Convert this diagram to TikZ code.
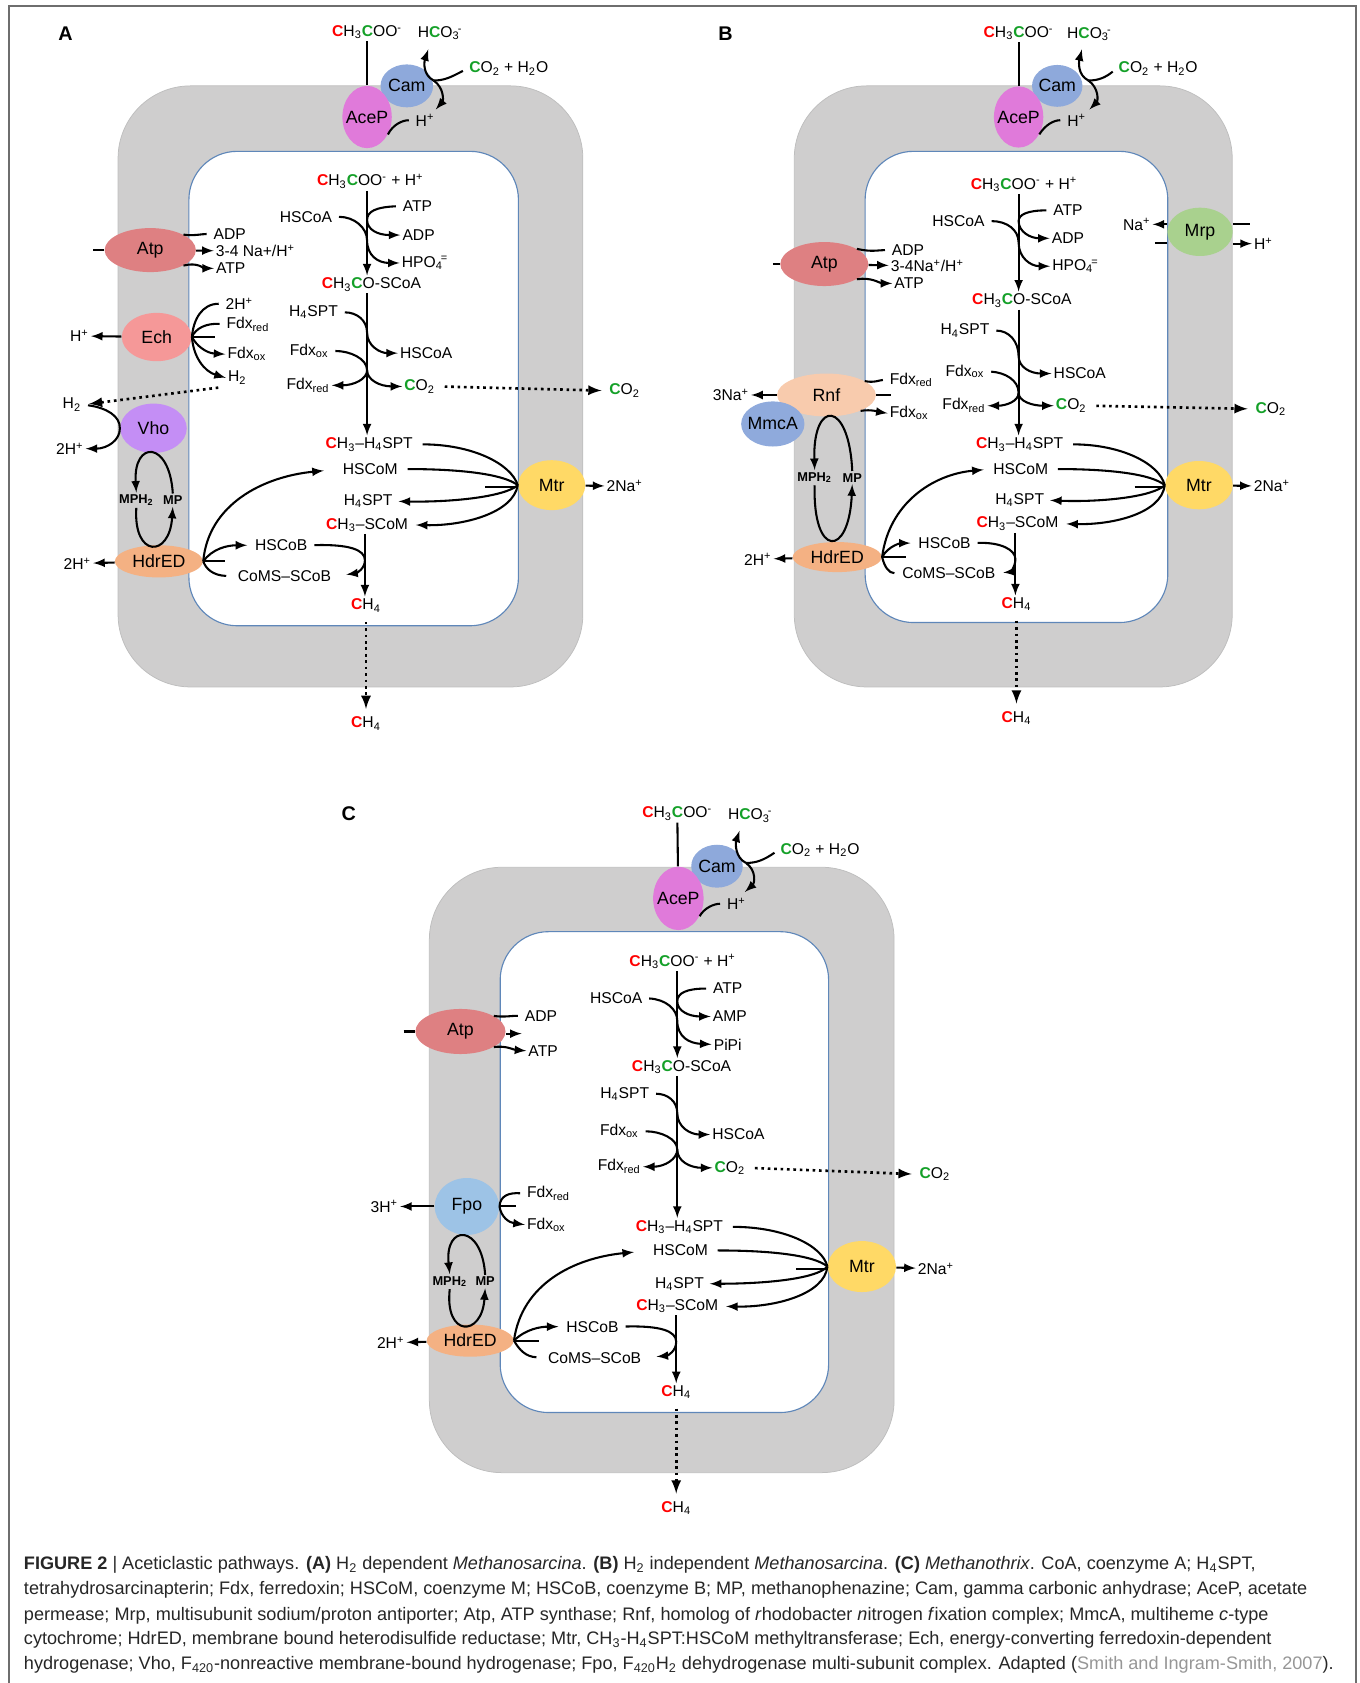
\documentclass[tikz,border=0pt]{standalone}
\usepackage{fontspec}
\setmainfont{Liberation Sans}
\usetikzlibrary{shapes.geometric,arrows}

\definecolor{membgray}{RGB}{207,206,206}
\definecolor{membedge}{RGB}{190,190,190}
\definecolor{cytoblue}{RGB}{95,135,185}
\definecolor{cred}{RGB}{255,0,0}
\definecolor{cgreen}{RGB}{20,160,40}
\definecolor{camblue}{RGB}{142,169,219}
\definecolor{acepink}{RGB}{224,122,218}
\definecolor{atpred}{RGB}{222,128,130}
\definecolor{echpink}{RGB}{245,152,152}
\definecolor{vholilac}{RGB}{196,142,245}
\definecolor{hdrorange}{RGB}{244,177,131}
\definecolor{mtryel}{RGB}{255,217,102}
\definecolor{mrpgreen}{RGB}{169,209,142}
\definecolor{rnfpeach}{RGB}{248,203,173}
\definecolor{mmcablue}{RGB}{143,170,220}
\definecolor{fpoblue}{RGB}{157,195,230}
\definecolor{framegray}{RGB}{110,110,110}
\definecolor{capgray}{RGB}{150,150,150}

\newcommand{\rC}{\textcolor{cred}{\textbf{C}}}
\newcommand{\gC}{\textcolor{cgreen}{\textbf{C}}}
\newcommand{\subsup}[2]{\textsubscript{#1}\kern-0.12em\textsuperscript{#2}}
\newcommand{\ez}[1]{\makebox[0pt]{#1}}
\newcommand{\lblfont}{\fontsize{8.3}{9}\selectfont}
\newcommand{\enzfont}{\fontsize{9.4}{10}\selectfont}
\newcommand{\mpfont}{\fontsize{6.8}{7}\selectfont\bfseries}
\newcommand{\plfont}{\fontsize{10.5}{11}\selectfont\bfseries}
\newcommand{\capfont}{\fontsize{9.6}{11}\selectfont}

\begin{document}
\begin{tikzpicture}[
  x=0.02cm, y=-0.02cm,
  lbl/.style={font=\lblfont, inner sep=1pt},
  enz/.style={ellipse, font=\enzfont, inner sep=0pt},
  mpl/.style={font=\mpfont, inner sep=1pt},
  pl/.style={font=\plfont, inner sep=0pt},
  capline/.style={font=\capfont, text=black!85, anchor=west, inner sep=0pt},
  ln/.style={line width=1.1pt},
  rxn/.style={ln, -latex},
  gap/.style={shorten <=2.5pt},
  flux/.style={line width=1.4pt, dotted, -latex, shorten <=4pt, shorten >=3pt},
  memb/.style={fill=membgray, draw=membedge, line width=0.4pt, rounded corners=1.35cm},
  cyto/.style={fill=white, draw=cytoblue, line width=0.6pt, rounded corners=0.9cm}
]
\useasboundingbox (0,0) rectangle (1267,1568);
\draw[framegray, line width=1pt] (8,1568) |- (1263,6) -- (1263,1568);

% panel A
\path[memb] (110,80) rectangle (543,640);
\path[cyto] (176,141) rectangle (483,583);
\node[pl] (a-lab) at (61,31) {A};

\node[lbl] (a-ac) at (342,30) {\rC H\textsubscript{3}\gC OO\textsuperscript{-}};
\node[lbl] (a-hco3) at (410,31) {H\gC O\subsup{3}{-}};
\node[enz, fill=camblue, minimum width=0.98cm, minimum height=0.8cm] (a-cam) at (379,80) {\ez{Cam}};
\node[enz, fill=acepink, minimum width=0.92cm, minimum height=1.16cm] (a-acep) at (342,109) {\ez{AceP}};
\node[lbl] (a-co2w) at (474,64) {\gC O\textsubscript{2} + H\textsubscript{2}O};
\node[lbl] (a-hp) at (396,112) {H\textsuperscript{+}};
\coordinate (a-cj) at (404,75);
\coordinate (a-cu) at (399,46);
\coordinate (a-cd) at (406,102);
\draw[ln, gap] (a-co2w.west) .. controls (420,72) and (414,75) .. (a-cj);
\draw[rxn] (a-cj) .. controls (394,70) and (395,58) .. (a-cu);
\draw[rxn] (a-cj) .. controls (414,82) and (413,94) .. (a-cd);
\draw[ln] (a-ac) -- (a-acep);
\draw[ln, gap] (a-hp.west) .. controls (375,112) and (366,116) .. (a-acep.-40);

\node[lbl] (a-ac2) at (345,169) {\rC H\textsubscript{3}\gC OO\textsuperscript{-} + H\textsuperscript{+}};
\node[lbl] (a-hscoa1) at (285,202) {HSCoA};
\node[lbl] (a-atp1) at (389,192) {ATP};
\node[lbl] (a-adp1) at (390,219) {ADP};
\node[lbl] (a-hpo4) at (396,245) {HPO\subsup{4}{=}};
\node[lbl] (a-acscoa) at (346,265) {\rC H\textsubscript{3}\gC O-SCoA};
\coordinate (a-j1) at (342,205);
\coordinate (a-j2) at (342,224);
\draw[rxn] (a-ac2.south -| a-ac) -- (a-acscoa.north -| a-ac);
\draw[rxn, gap] (a-atp1.west) .. controls (350,193) and (342,197) .. (a-j1) .. controls (342,214) and (352,219) .. (a-adp1.west);
\draw[rxn, gap] (a-hscoa1.east) .. controls (330,202) and (342,212) .. (a-j2) .. controls (342,238) and (352,245) .. (a-hpo4.west);

\node[lbl] (a-h4spt1) at (292,291) {H\textsubscript{4}SPT};
\node[lbl] (a-hscoa2) at (397,329) {HSCoA};
\node[lbl] (a-fdxox1) at (288,327) {Fdx\textsubscript{ox}};
\node[lbl] (a-fdxred1) at (287,359) {Fdx\textsubscript{red}};
\node[lbl] (a-co2in) at (391,360) {\gC O\textsubscript{2}};
\node[lbl] (a-co2out) at (582,364) {\gC O\textsubscript{2}};
\coordinate (a-j3) at (342,310);
\coordinate (a-j4) at (342,345);
\draw[rxn, gap] (a-h4spt1.east) .. controls (332,291) and (342,298) .. (a-j3) .. controls (342,322) and (354,329) .. (a-hscoa2.west);
\draw[rxn, gap] (a-fdxox1.east) .. controls (326,327) and (342,334) .. (a-j4) .. controls (342,354) and (354,360) .. (a-co2in.west);
\draw[rxn] (a-j4) .. controls (342,353) and (330,359) .. (a-fdxred1.east);
\draw[flux] (a-co2in.east) -- (a-co2out.west);

\node[lbl] (a-ch3h4spt) at (344,414) {\rC H\textsubscript{3}--H\textsubscript{4}SPT};
\node[lbl] (a-hscom) at (345,437) {HSCoM};
\node[lbl] (a-h4spt2) at (343,467) {H\textsubscript{4}SPT};
\node[lbl] (a-ch3scom) at (342,489) {\rC H\textsubscript{3}--SCoM};
\node[enz, fill=mtryel, minimum width=1.25cm, minimum height=0.93cm] (a-mtr) at (514,452) {\ez{Mtr}};
\node[lbl] (a-2na) at (582,453) {2Na\textsuperscript{+}};
\coordinate (a-mstub) at (452,454);
\draw[rxn] (a-acscoa.south -| a-ac) -- (a-ch3h4spt.north -| a-ac);
\draw[ln, shorten <=4pt] (a-ch3h4spt.east) .. controls (440,414) and (476,432) .. (a-mtr.west);
\draw[ln, shorten <=4pt] (a-hscom.east) .. controls (425,437) and (468,441) .. (a-mtr.west);
\draw[rxn, shorten >=2pt] (a-mtr.west) .. controls (470,463) and (420,468) .. (a-h4spt2.east);
\draw[rxn, shorten >=3pt] (a-mtr.west) .. controls (478,478) and (432,490) .. (a-ch3scom.east);
\draw[ln] (a-mstub) -- (a-mtr.west |- a-mstub);
\draw[rxn] (a-mtr) -- (a-2na);

\node[enz, fill=hdrorange, minimum width=1.64cm, minimum height=0.6cm] (a-hdr) at (148,523) {\ez{HdrED}};
\node[lbl] (a-2h3) at (72,525) {2H\textsuperscript{+}};
\node[lbl] (a-hscob) at (262,508) {HSCoB};
\node[lbl] (a-coms) at (265,537) {CoMS--SCoB};
\node[lbl] (a-ch4in) at (341,564) {\rC H\textsubscript{4}};
\node[lbl] (a-ch4out) at (341,674) {\rC H\textsubscript{4}};
\coordinate (a-hstub) at (210,523);
\coordinate (a-j5) at (340,522);
\draw[rxn, shorten >=9pt] (a-hdr.east) .. controls (194,470) and (245,444) .. (a-hscom.west);
\draw[rxn, shorten >=3pt] (a-hdr.east) .. controls (198,511) and (212,508) .. (a-hscob.west);
\draw[ln] (a-hdr.east) -- (a-hstub);
\draw[ln, shorten <=5pt] (a-coms.west) .. controls (198,536) and (192,530) .. (a-hdr.east);
\draw[rxn, gap, shorten >=7pt] (a-hscob.east) .. controls (325,507) and (340,512) .. (a-j5) .. controls (340,530) and (332,534) .. (a-coms.east);
\draw[rxn] (a-ch3scom.south -| a-j5) -- (a-ch4in.north -| a-j5);
\draw[flux] (a-ch4in) -- (a-ch4out);
\draw[rxn] (a-hdr) -- (a-2h3);

\node[enz, fill=atpred, minimum width=1.7cm, minimum height=0.82cm] (a-atp) at (140,233) {\ez{Atp}};
\node[lbl] (a-adp2) at (214,218) {ADP};
\node[lbl] (a-nah) at (238,234) {3-4 Na+/H\textsuperscript{+}};
\node[lbl] (a-atp2) at (215,250) {ATP};
\coordinate (a-astub) at (87,233);
\draw[ln] (a-astub) -- (a-atp);
\draw[ln, gap] (a-adp2.west) .. controls (188,218) and (180,220) .. (a-atp.25);
\draw[rxn] (a-atp) -- (a-nah);
\draw[rxn] (a-atp.-25) .. controls (184,244) and (190,250) .. (a-atp2.west);

\node[enz, fill=echpink, minimum width=1.3cm, minimum height=0.9cm] (a-ech) at (146,314) {\ez{Ech}};
\node[lbl] (a-hp2) at (74,313) {H\textsuperscript{+}};
\node[lbl] (a-2h1) at (223,283) {2H\textsuperscript{+}};
\node[lbl] (a-fdxred2) at (231,302) {Fdx\textsubscript{red}};
\node[lbl] (a-fdxox2) at (230,330) {Fdx\textsubscript{ox}};
\node[lbl] (a-h2in) at (221,352) {H\textsubscript{2}};
\coordinate (a-estub) at (200,314);
\draw[rxn] (a-ech) -- (a-hp2);
\draw[ln, gap] (a-2h1.west) .. controls (188,283) and (180,298) .. (a-ech.east);
\draw[ln, gap] (a-fdxred2.west) .. controls (192,301) and (182,306) .. (a-ech.east);
\draw[ln] (a-ech.east) -- (a-estub);
\draw[rxn] (a-ech.east) .. controls (183,322) and (192,329) .. (a-fdxox2.west);
\draw[rxn] (a-ech.east) .. controls (180,332) and (190,346) .. (a-h2in.west);

\node[lbl] (a-h2out) at (67,377) {H\textsubscript{2}};
\node[enz, fill=vholilac, minimum width=1.24cm, minimum height=0.92cm] (a-vho) at (143,399) {\ez{Vho}};
\node[lbl] (a-2h2) at (65,418) {2H\textsuperscript{+}};
\draw[flux] (a-h2in.south west) -- (a-h2out.east);
\draw[rxn, gap] (a-h2out.east) .. controls (100,380) and (112,388) .. (a-vho.west) .. controls (112,410) and (100,418) .. (a-2h2.east);

\node[mpl] (a-mph2) at (127,466) {MPH\textsubscript{2}};
\node[mpl] (a-mp) at (161,466) {MP};
\draw[rxn] (a-mp.north) .. controls (158,410) and (124,410) .. (a-mph2.north);
\draw[rxn] (a-mph2.south) .. controls (124,520) and (158,520) .. (a-mp.south);

% panel B
\path[memb] (740,80) rectangle (1148,640);
\path[cyto] (806,141) rectangle (1088,580);
\node[pl] (b-lab) at (676,31) {B};

\node[lbl] (b-ac) at (949,31) {\rC H\textsubscript{3}\gC OO\textsuperscript{-}};
\node[lbl] (b-hco3) at (1015,32) {H\gC O\subsup{3}{-}};
\node[enz, fill=camblue, minimum width=0.94cm, minimum height=0.78cm] (b-cam) at (985,80) {\ez{Cam}};
\node[enz, fill=acepink, minimum width=0.92cm, minimum height=1.14cm] (b-acep) at (949,109) {\ez{AceP}};
\node[lbl] (b-co2w) at (1079,64) {\gC O\textsubscript{2} + H\textsubscript{2}O};
\node[lbl] (b-hp) at (1003,112) {H\textsuperscript{+}};
\coordinate (b-cj) at (1014,75);
\coordinate (b-cu) at (1008,46);
\coordinate (b-cd) at (1015,102);
\draw[ln, gap] (b-co2w.west) .. controls (1030,72) and (1024,75) .. (b-cj);
\draw[rxn] (b-cj) .. controls (1004,70) and (1005,58) .. (b-cu);
\draw[rxn] (b-cj) .. controls (1024,82) and (1023,94) .. (b-cd);
\draw[ln] (b-ac) -- (b-acep);
\draw[ln, gap] (b-hp.west) .. controls (982,112) and (974,116) .. (b-acep.-40);

\node[lbl] (b-ac2) at (954,172) {\rC H\textsubscript{3}\gC OO\textsuperscript{-} + H\textsuperscript{+}};
\node[lbl] (b-hscoa1) at (893,206) {HSCoA};
\node[lbl] (b-atp1) at (995,196) {ATP};
\node[lbl] (b-adp1) at (995,222) {ADP};
\node[lbl] (b-hpo4) at (1002,248) {HPO\subsup{4}{=}};
\node[lbl] (b-acscoa) at (952,280) {\rC H\textsubscript{3}\gC O-SCoA};
\coordinate (b-j1) at (949,206);
\coordinate (b-j2) at (949,226);
\draw[rxn] (b-ac2.south -| b-ac) -- (b-acscoa.north -| b-ac);
\draw[rxn, gap] (b-atp1.west) .. controls (957,196) and (949,200) .. (b-j1) .. controls (949,216) and (960,222) .. (b-adp1.west);
\draw[rxn, gap] (b-hscoa1.east) .. controls (938,206) and (949,214) .. (b-j2) .. controls (949,240) and (960,248) .. (b-hpo4.west);

\node[lbl] (b-h4spt1) at (899,308) {H\textsubscript{4}SPT};
\node[lbl] (b-hscoa2) at (1006,348) {HSCoA};
\node[lbl] (b-fdxox1) at (899,346) {Fdx\textsubscript{ox}};
\node[lbl] (b-fdxred1) at (898,378) {Fdx\textsubscript{red}};
\node[lbl] (b-co2in) at (998,378) {\gC O\textsubscript{2}};
\node[lbl] (b-co2out) at (1184,381) {\gC O\textsubscript{2}};
\coordinate (b-j3) at (949,332);
\coordinate (b-j4) at (949,366);
\draw[rxn, gap] (b-h4spt1.east) .. controls (940,308) and (949,318) .. (b-j3) .. controls (949,342) and (960,348) .. (b-hscoa2.west);
\draw[rxn, gap] (b-fdxox1.east) .. controls (936,347) and (949,354) .. (b-j4) .. controls (949,374) and (962,378) .. (b-co2in.west);
\draw[rxn] (b-j4) .. controls (949,374) and (937,378) .. (b-fdxred1.east);
\draw[flux] (b-co2in.east) -- (b-co2out.west);

\node[lbl] (b-ch3h4spt) at (950,414) {\rC H\textsubscript{3}--H\textsubscript{4}SPT};
\node[lbl] (b-hscom) at (951,437) {HSCoM};
\node[lbl] (b-h4spt2) at (950,466) {H\textsubscript{4}SPT};
\node[lbl] (b-ch3scom) at (948,488) {\rC H\textsubscript{3}--SCoM};
\node[enz, fill=mtryel, minimum width=1.26cm, minimum height=0.9cm] (b-mtr) at (1117,452) {\ez{Mtr}};
\node[lbl] (b-2na) at (1185,453) {2Na\textsuperscript{+}};
\coordinate (b-mstub) at (1057,454);
\draw[rxn] (b-acscoa.south -| b-ac) -- (b-ch3h4spt.north -| b-ac);
\draw[ln, shorten <=4pt] (b-ch3h4spt.east) .. controls (1045,414) and (1080,432) .. (b-mtr.west);
\draw[ln, shorten <=4pt] (b-hscom.east) .. controls (1030,437) and (1072,441) .. (b-mtr.west);
\draw[rxn, shorten >=2pt] (b-mtr.west) .. controls (1074,463) and (1025,468) .. (b-h4spt2.east);
\draw[rxn, shorten >=3pt] (b-mtr.west) .. controls (1082,478) and (1038,489) .. (b-ch3scom.east);
\draw[ln] (b-mstub) -- (b-mtr.west |- b-mstub);
\draw[rxn] (b-mtr) -- (b-2na);

\node[enz, fill=hdrorange, minimum width=1.66cm, minimum height=0.56cm] (b-hdr) at (780,519) {\ez{HdrED}};
\node[lbl] (b-2h3) at (706,521) {2H\textsuperscript{+}};
\node[lbl] (b-hscob) at (880,506) {HSCoB};
\node[lbl] (b-coms) at (884,534) {CoMS--SCoB};
\node[lbl] (b-ch4in) at (947,563) {\rC H\textsubscript{4}};
\node[lbl] (b-ch4out) at (947,669) {\rC H\textsubscript{4}};
\coordinate (b-hstub) at (844,519);
\coordinate (b-j5) at (946,521);
\draw[rxn, shorten >=4pt] (b-hdr.east) .. controls (828,470) and (868,442) .. (b-hscom.west);
\draw[rxn, shorten >=3pt] (b-hdr.east) .. controls (828,508) and (840,506) .. (b-hscob.west);
\draw[ln] (b-hdr.east) -- (b-hstub);
\draw[ln, shorten <=3pt] (b-coms.west) .. controls (828,534) and (824,528) .. (b-hdr.east);
\draw[rxn, gap, shorten >=3pt] (b-hscob.east) .. controls (932,505) and (946,512) .. (b-j5) .. controls (946,529) and (940,533) .. (b-coms.east);
\draw[rxn] (b-ch3scom.south -| b-j5) -- (b-ch4in.north -| b-j5);
\draw[flux] (b-ch4in) -- (b-ch4out);
\draw[rxn] (b-hdr) -- (b-2h3);

\node[enz, fill=atpred, minimum width=1.64cm, minimum height=0.82cm] (b-atp) at (768,246) {\ez{Atp}};
\node[lbl] (b-adp2) at (846,233) {ADP};
\node[lbl] (b-nah) at (864,248) {3-4Na\textsuperscript{+}/H\textsuperscript{+}};
\node[lbl] (b-atp2) at (847,264) {ATP};
\coordinate (b-astub) at (720,246);
\draw[ln] (b-astub) -- (b-atp);
\draw[ln, gap] (b-adp2.west) .. controls (818,233) and (812,235) .. (b-atp.25);
\draw[rxn] (b-atp) -- (b-nah);
\draw[rxn] (b-atp.-25) .. controls (812,258) and (820,264) .. (b-atp2.west);

\node[enz, fill=rnfpeach, minimum width=1.84cm, minimum height=0.8cm] (b-rnf) at (770,368) {\ez{Rnf}};
\node[enz, fill=mmcablue, minimum width=1.18cm, minimum height=0.84cm] (b-mmca) at (720,395) {\ez{MmcA}};
\node[lbl] (b-3na) at (681,368) {3Na\textsuperscript{+}};
\node[lbl] (b-fdxred2) at (849,354) {Fdx\textsubscript{red}};
\node[lbl] (b-fdxox2) at (847,385) {Fdx\textsubscript{ox}};
\coordinate (b-rstub) at (830,368);
\draw[rxn] (b-rnf) -- (b-3na);
\draw[ln, gap] (b-fdxred2.west) .. controls (820,354) and (814,357) .. (b-rnf.20);
\draw[ln] (b-rnf.east) -- (b-rstub);
\draw[rxn] (b-rnf.-25) .. controls (812,381) and (820,384) .. (b-fdxox2.west);

\node[mpl] (b-mph2) at (759,445) {MPH\textsubscript{2}};
\node[mpl] (b-mp) at (794,445) {MP};
\draw[rxn] (b-mp.north) .. controls (791,372) and (757,372) .. (b-mph2.north);
\draw[rxn] (b-mph2.south) .. controls (757,520) and (791,520) .. (b-mp.south);

\node[enz, fill=mrpgreen, minimum width=1.22cm, minimum height=0.9cm] (b-mrp) at (1118,216) {\ez{Mrp}};
\node[lbl] (b-na) at (1059,209) {Na\textsuperscript{+}};
\node[lbl] (b-hp3) at (1177,227) {H\textsuperscript{+}};
\coordinate (b-ms1) at (1076,226);
\coordinate (b-ms2) at (1165,209);
\draw[rxn] (b-mrp.west |- b-na) -- (b-na);
\draw[ln] (b-ms1) -- (b-mrp.west |- b-ms1);
\draw[ln] (b-mrp.east |- b-ms2) -- (b-ms2);
\draw[rxn] (b-mrp.east |- b-hp3) -- (b-hp3);

% panel C
\path[memb] (400,808) rectangle (833,1372);
\path[cyto] (466,868) rectangle (772,1316);
\node[pl] (c-lab) at (325,758) {C};

\node[lbl] (c-ac) at (631,758) {\rC H\textsubscript{3}\gC OO\textsuperscript{-}};
\node[lbl] (c-hco3) at (699,760) {H\gC O\subsup{3}{-}};
\node[enz, fill=camblue, minimum width=0.96cm, minimum height=0.8cm] (c-cam) at (668,807) {\ez{Cam}};
\node[enz, fill=acepink, minimum width=0.94cm, minimum height=1.18cm] (c-acep) at (632,837) {\ez{AceP}};
\node[lbl] (c-co2w) at (764,792) {\gC O\textsubscript{2} + H\textsubscript{2}O};
\node[lbl] (c-hp) at (686,842) {H\textsuperscript{+}};
\coordinate (c-cj) at (695,804);
\coordinate (c-cu) at (689,774);
\coordinate (c-cd) at (694,831);
\draw[ln, gap] (c-co2w.west) .. controls (712,801) and (705,804) .. (c-cj);
\draw[rxn] (c-cj) .. controls (685,799) and (685,786) .. (c-cu);
\draw[rxn] (c-cj) .. controls (705,811) and (703,823) .. (c-cd);
\draw[ln] (c-ac) -- (c-acep);
\draw[ln, gap] (c-hp.west) .. controls (665,842) and (656,846) .. (c-acep.-40);

\node[lbl] (c-ac2) at (636,896) {\rC H\textsubscript{3}\gC OO\textsuperscript{-} + H\textsuperscript{+}};
\node[lbl] (c-hscoa1) at (574,930) {HSCoA};
\node[lbl] (c-atp1) at (678,921) {ATP};
\node[lbl] (c-amp) at (680,947) {AMP};
\node[lbl] (c-pipi) at (678,973) {PiPi};
\node[lbl] (c-acscoa) at (635,994) {\rC H\textsubscript{3}\gC O-SCoA};
\coordinate (c-j1) at (631,933);
\coordinate (c-j2) at (631,951);
\draw[rxn] (c-ac2.south -| c-ac) -- (c-acscoa.north -| c-ac);
\draw[rxn, gap] (c-atp1.west) .. controls (640,921) and (631,925) .. (c-j1) .. controls (631,942) and (642,947) .. (c-amp.west);
\draw[rxn, gap] (c-hscoa1.east) .. controls (620,931) and (631,940) .. (c-j2) .. controls (631,966) and (642,972) .. (c-pipi.west);

\node[lbl] (c-h4spt1) at (582,1019) {H\textsubscript{4}SPT};
\node[lbl] (c-hscoa2) at (688,1057) {HSCoA};
\node[lbl] (c-fdxox1) at (577,1054) {Fdx\textsubscript{ox}};
\node[lbl] (c-fdxred1) at (577,1087) {Fdx\textsubscript{red}};
\node[lbl] (c-co2in) at (680,1088) {\gC O\textsubscript{2}};
\node[lbl] (c-co2out) at (871,1094) {\gC O\textsubscript{2}};
\coordinate (c-j3) at (631,1037);
\coordinate (c-j4) at (631,1071);
\draw[rxn, gap] (c-h4spt1.east) .. controls (622,1019) and (631,1026) .. (c-j3) .. controls (631,1050) and (643,1057) .. (c-hscoa2.west);
\draw[rxn, gap] (c-fdxox1.east) .. controls (616,1054) and (631,1061) .. (c-j4) .. controls (631,1082) and (643,1088) .. (c-co2in.west);
\draw[rxn] (c-j4) .. controls (631,1080) and (619,1087) .. (c-fdxred1.east);
\draw[flux] (c-co2in.east) -- (c-co2out.west);

\node[lbl] (c-ch3h4spt) at (633,1143) {\rC H\textsubscript{3}--H\textsubscript{4}SPT};
\node[lbl] (c-hscom) at (634,1165) {HSCoM};
\node[lbl] (c-h4spt2) at (633,1196) {H\textsubscript{4}SPT};
\node[lbl] (c-ch3scom) at (631,1217) {\rC H\textsubscript{3}--SCoM};
\node[enz, fill=mtryel, minimum width=1.27cm, minimum height=0.95cm] (c-mtr) at (803,1180) {\ez{Mtr}};
\node[lbl] (c-2na) at (872,1182) {2Na\textsuperscript{+}};
\coordinate (c-mstub) at (742,1182);
\draw[rxn] (c-acscoa.south -| c-ac) -- (c-ch3h4spt.north -| c-ac);
\draw[ln, shorten <=4pt] (c-ch3h4spt.east) .. controls (730,1143) and (766,1160) .. (c-mtr.west);
\draw[ln, shorten <=4pt] (c-hscom.east) .. controls (715,1165) and (758,1169) .. (c-mtr.west);
\draw[rxn, shorten >=2pt] (c-mtr.west) .. controls (760,1192) and (710,1196) .. (c-h4spt2.east);
\draw[rxn, shorten >=3pt] (c-mtr.west) .. controls (768,1206) and (722,1218) .. (c-ch3scom.east);
\draw[ln] (c-mstub) -- (c-mtr.west |- c-mstub);
\draw[rxn] (c-mtr) -- (c-2na);

\node[enz, fill=hdrorange, minimum width=1.62cm, minimum height=0.6cm] (c-hdr) at (438,1249) {\ez{HdrED}};
\node[lbl] (c-2h3) at (364,1251) {2H\textsuperscript{+}};
\node[lbl] (c-hscob) at (552,1236) {HSCoB};
\node[lbl] (c-coms) at (554,1265) {CoMS--SCoB};
\node[lbl] (c-ch4in) at (630,1297) {\rC H\textsubscript{4}};
\node[lbl] (c-ch4out) at (630,1405) {\rC H\textsubscript{4}};
\coordinate (c-hstub) at (502,1249);
\coordinate (c-j5) at (630,1250);
\draw[rxn, shorten >=9pt] (c-hdr.east) .. controls (486,1196) and (535,1172) .. (c-hscom.west);
\draw[rxn, shorten >=3pt] (c-hdr.east) .. controls (490,1238) and (504,1236) .. (c-hscob.west);
\draw[ln] (c-hdr.east) -- (c-hstub);
\draw[ln, shorten <=5pt] (c-coms.west) .. controls (490,1264) and (484,1258) .. (c-hdr.east);
\draw[rxn, gap, shorten >=7pt] (c-hscob.east) .. controls (615,1235) and (630,1240) .. (c-j5) .. controls (630,1259) and (622,1263) .. (c-coms.east);
\draw[rxn] (c-ch3scom.south -| c-j5) -- (c-ch4in.north -| c-j5);
\draw[flux] (c-ch4in) -- (c-ch4out);
\draw[rxn] (c-hdr) -- (c-2h3);

\node[enz, fill=atpred, minimum width=1.68cm, minimum height=0.84cm] (c-atp) at (429,961) {\ez{Atp}};
\node[lbl] (c-adp2) at (504,947) {ADP};
\node[lbl] (c-atp2) at (506,979) {ATP};
\coordinate (c-astub) at (376,961);
\coordinate (c-aout) at (486,963);
\draw[ln] (c-astub) -- (c-atp);
\draw[ln, gap] (c-adp2.west) .. controls (478,946) and (470,948) .. (c-atp.25);
\draw[rxn] (c-atp.east |- c-aout) -- (c-aout);
\draw[rxn] (c-atp.-25) .. controls (472,974) and (478,978) .. (c-atp2.west);

\node[enz, fill=fpoblue, minimum width=1.2cm, minimum height=1.06cm] (c-fpo) at (435,1124) {\ez{Fpo}};
\node[lbl] (c-3h) at (358,1124) {3H\textsuperscript{+}};
\node[lbl] (c-fdxred2) at (511,1112) {Fdx\textsubscript{red}};
\node[lbl] (c-fdxox2) at (509,1141) {Fdx\textsubscript{ox}};
\coordinate (c-fstub) at (481,1124);
\draw[rxn] (c-fpo) -- (c-3h);
\draw[ln, gap] (c-fdxred2.west) .. controls (474,1111) and (466,1114) .. (c-fpo.east);
\draw[ln] (c-fpo.east) -- (c-fstub);
\draw[rxn] (c-fpo.east) .. controls (467,1134) and (474,1139) .. (c-fdxox2.west);

\node[mpl] (c-mph2) at (419,1194) {MPH\textsubscript{2}};
\node[mpl] (c-mp) at (452,1194) {MP};
\draw[rxn] (c-mp.north) .. controls (449,1140) and (414,1140) .. (c-mph2.north);
\draw[rxn] (c-mph2.south) .. controls (414,1246) and (449,1246) .. (c-mp.south);

% caption
\node[capline] (cap1) at (22,1458) {\textbf{FIGURE 2} | Aceticlastic pathways. \textbf{(A)} H\textsubscript{2} dependent \textit{Methanosarcina}. \textbf{(B)} H\textsubscript{2} independent \textit{Methanosarcina}. \textbf{(C)} \textit{Methanothrix}. CoA, coenzyme A; H\textsubscript{4}SPT,};
\node[capline] (cap2) at (22,1481) {tetrahydrosarcinapterin; Fdx, ferredoxin; HSCoM, coenzyme M; HSCoB, coenzyme B; MP, methanophenazine; Cam, gamma carbonic anhydrase; AceP, acetate};
\node[capline] (cap3) at (22,1505) {permease; Mrp, multisubunit sodium/proton antiporter; Atp, ATP synthase; Rnf, homolog of \textit{r}hodobacter \textit{n}itrogen \textit{f}ixation complex; MmcA, multiheme \textit{c}-type};
\node[capline] (cap4) at (22,1528) {cytochrome; HdrED, membrane bound heterodisulfide reductase; Mtr, CH\textsubscript{3}-H\textsubscript{4}SPT:HSCoM methyltransferase; Ech, energy-converting ferredoxin-dependent};
\node[capline] (cap5) at (22,1551) {hydrogenase; Vho, F\textsubscript{420}-nonreactive membrane-bound hydrogenase; Fpo, F\textsubscript{420}H\textsubscript{2} dehydrogenase multi-subunit complex. Adapted (\textcolor{capgray}{Smith and Ingram-Smith, 2007}).};
\end{tikzpicture}
\end{document}
